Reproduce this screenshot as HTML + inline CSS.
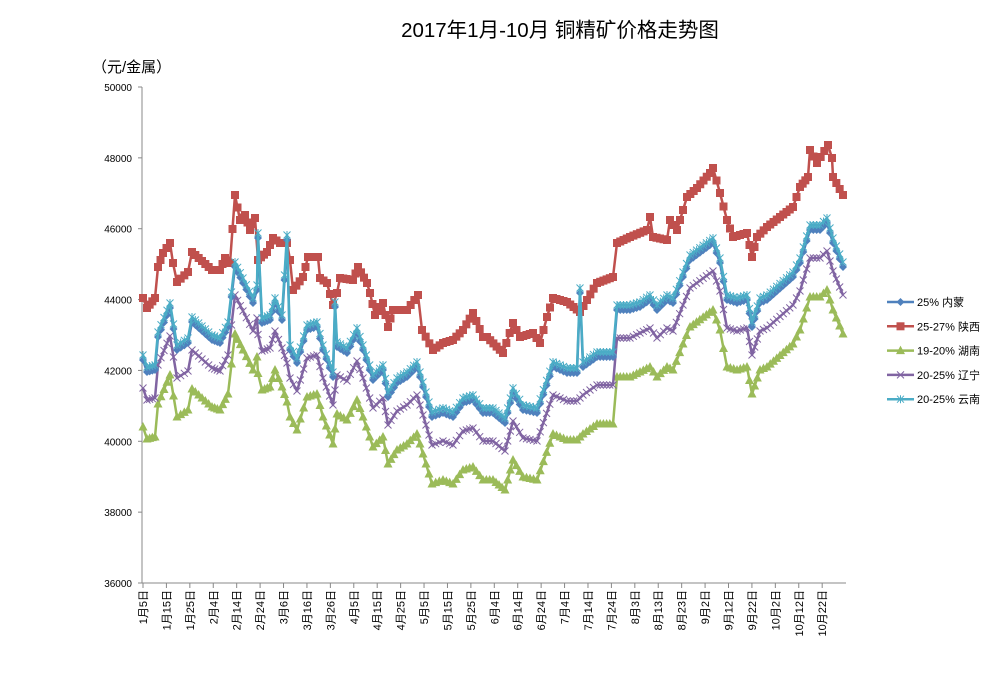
<!DOCTYPE html>
<html><head><meta charset="utf-8"><style>
body{margin:0;background:#fff;}
svg text{font-family:"Liberation Sans","Noto Sans CJK SC",sans-serif;}
</style></head><body>
<svg id="s" width="997" height="668" xmlns="http://www.w3.org/2000/svg">
<text x="560" y="37" font-size="20.5" text-anchor="middle">2017年1月-10月 铜精矿价格走势图</text>
<text x="92" y="72" font-size="15">（元/金属）</text>
<g id="ax"></g>
<g id="ser"></g>
<g id="leg" font-size="11"></g>
</svg>
<script>
const NS="http://www.w3.org/2000/svg";
function el(t,a,p,txt){const e=document.createElementNS(NS,t);for(const k in a)e.setAttribute(k,a[k]);if(txt)e.textContent=txt;p.appendChild(e);return e;}
const ax=document.getElementById('ax'),ser=document.getElementById('ser'),leg=document.getElementById('leg');
const Y=v=>87+(50000-v)/14000*496;
el('line',{x1:142,y1:87,x2:142,y2:583,stroke:'#888'},ax);
el('line',{x1:142,y1:583,x2:846,y2:583,stroke:'#888'},ax);
for(let v=36000;v<=50000;v+=2000){const y=Y(v);el('line',{x1:138,y1:y,x2:142,y2:y,stroke:'#888'},ax);
el('text',{x:132,y:y+4,'font-size':10,'text-anchor':'end'},ax,String(v));}
const labs=["1月5日","1月15日","1月25日","2月4日","2月14日","2月24日","3月6日","3月16日","3月26日","4月5日","4月15日","4月25日","5月5日","5月15日","5月25日","6月4日","6月14日","6月24日","7月4日","7月14日","7月24日","8月3日","8月13日","8月23日","9月2日","9月12日","9月22日","10月2日","10月12日","10月22日"];
labs.forEach((l,i)=>{const x=143+i*23.42;el('line',{x1:x,y1:583,x2:x,y2:588,stroke:'#888'},ax);
el('text',{transform:`translate(${x+4},590) rotate(-90)`,'font-size':11,'text-anchor':'end'},ax,l);});
const blue=[[143,360],[147,372],[155,370],[158,337],[170,308],[177,350],[188,343],[192,322],[212,340],[220,343],[228,327],[235,267],[243,283],[253,303],[257,290],[258,238],[262,323],[270,320],[275,303],[282,320],[287,240],[290,350],[297,363],[307,330],[317,327],[323,350],[333,377],[335,307],[337,347],[347,353],[357,333],[363,350],[373,380],[383,370],[388,397],[397,383],[407,377],[417,367],[423,387],[432,417],[443,413],[453,417],[463,403],[473,400],[483,413],[493,413],[505,423],[513,393],[523,410],[537,413],[553,367],[567,373],[577,373],[580,293],[583,367],[597,357],[613,357],[617,310],[630,310],[640,307],[650,300],[657,310],[667,300],[673,303],[683,277],[690,260],[713,243],[720,263],[727,300],[737,303],[747,300],[752,327],[760,303],[767,300],[793,277],[800,263],[810,230],[820,230],[827,223],[833,243],[843,267]];
const spikes=new Set([238,240,307,293]);
const red=[[143,298],[147,308],[155,298],[158,267],[163,253],[170,243],[173,263],[177,282],[188,272],[192,252],[212,270],[220,270],[225,258],[230,263],[235,195],[240,220],[245,215],[250,230],[255,218],[258,260],[267,252],[273,238],[280,243],[287,243],[290,260],[293,290],[303,277],[308,257],[318,257],[320,278],[327,283],[333,305],[337,293],[340,278],[353,280],[358,267],[367,283],[370,293],[375,315],[383,303],[388,327],[393,310],[407,310],[418,295],[422,330],[433,350],[443,343],[453,340],[463,330],[473,313],[483,337],[487,337],[503,353],[513,323],[520,337],[533,333],[540,343],[547,317],[553,298],[567,302],[580,312],[587,300],[597,283],[613,277],[617,243],[630,237],[647,230],[650,217],[653,237],[667,240],[670,220],[677,230],[683,210],[687,197],[697,188],[710,173],[713,168],[720,193],[727,220],[733,237],[747,233],[752,257],[757,237],[767,227],[793,207],[800,187],[808,177],[810,150],[817,163],[828,145],[832,158],[833,177],[843,195]];
function off(d,fix){return blue.map(([x,y])=>{let yy=y;if(spikes.has(y)&&!fix){const i=blue.findIndex(p=>p[0]===x);yy=(blue[i-1][1]+blue[i+1][1])/2;}return [x,yy+d];});}
const cyan=blue.map(([x,y])=>[x,y-5]);
const purple=off(28),green=off(67);
function dens(pts){const o=[];for(let i=0;i<pts.length-1;i++){const[a,b]=pts[i],[c,d]=pts[i+1];const n=Math.max(1,Math.round((c-a)/3.2));for(let k=0;k<n;k++)o.push([a+(c-a)*k/n,b+(d-b)*k/n]);}o.push(pts[pts.length-1]);return o;}
function marker(g,t,x,y,c){
 if(t=='d')el('path',{d:`M${x},${y-4}L${x+4},${y}L${x},${y+4}L${x-4},${y}Z`,fill:c},g);
 else if(t=='s')el('rect',{x:x-4,y:y-4,width:8,height:8,fill:c},g);
 else if(t=='t')el('path',{d:`M${x},${y-5}L${x+4.5},${y+3.5}L${x-4.5},${y+3.5}Z`,fill:c},g);
 else if(t=='x')el('path',{d:`M${x-3.5},${y-3.5}L${x+3.5},${y+3.5}M${x+3.5},${y-3.5}L${x-3.5},${y+3.5}`,stroke:c,'stroke-width':1},g);
 else {el('path',{d:`M${x-3.5},${y-3.5}L${x+3.5},${y+3.5}M${x+3.5},${y-3.5}L${x-3.5},${y+3.5}M${x},${y-4}L${x},${y+4}`,stroke:c,'stroke-width':1},g);}
}
const S=[[green,'#9BBB59','t'],[purple,'#8064A2','x'],[red,'#C0504D','s'],[blue,'#4F81BD','d'],[cyan,'#4BACC6','a']];
S.forEach(([p,c,t])=>{const g=el('g',{},ser);el('polyline',{points:p.map(q=>q.join(',')).join(' '),fill:'none',stroke:c,'stroke-width':2.5,'stroke-linejoin':'round'},g);
 dens(p).forEach(([x,y])=>marker(g,t,x,y,c));});
const L=[['25% 内蒙','#4F81BD','d'],['25-27% 陕西','#C0504D','s'],['19-20% 湖南','#9BBB59','t'],['20-25% 辽宁','#8064A2','x'],['20-25% 云南','#4BACC6','a']];
L.forEach(([n,c,t],i)=>{const y=302+i*24.3;el('line',{x1:887,y1:y,x2:914,y2:y,stroke:c,'stroke-width':2.5},leg);marker(leg,t,900.5,y,c);
 el('text',{x:917,y:y+4},leg,n);});
</script>
</body></html>
